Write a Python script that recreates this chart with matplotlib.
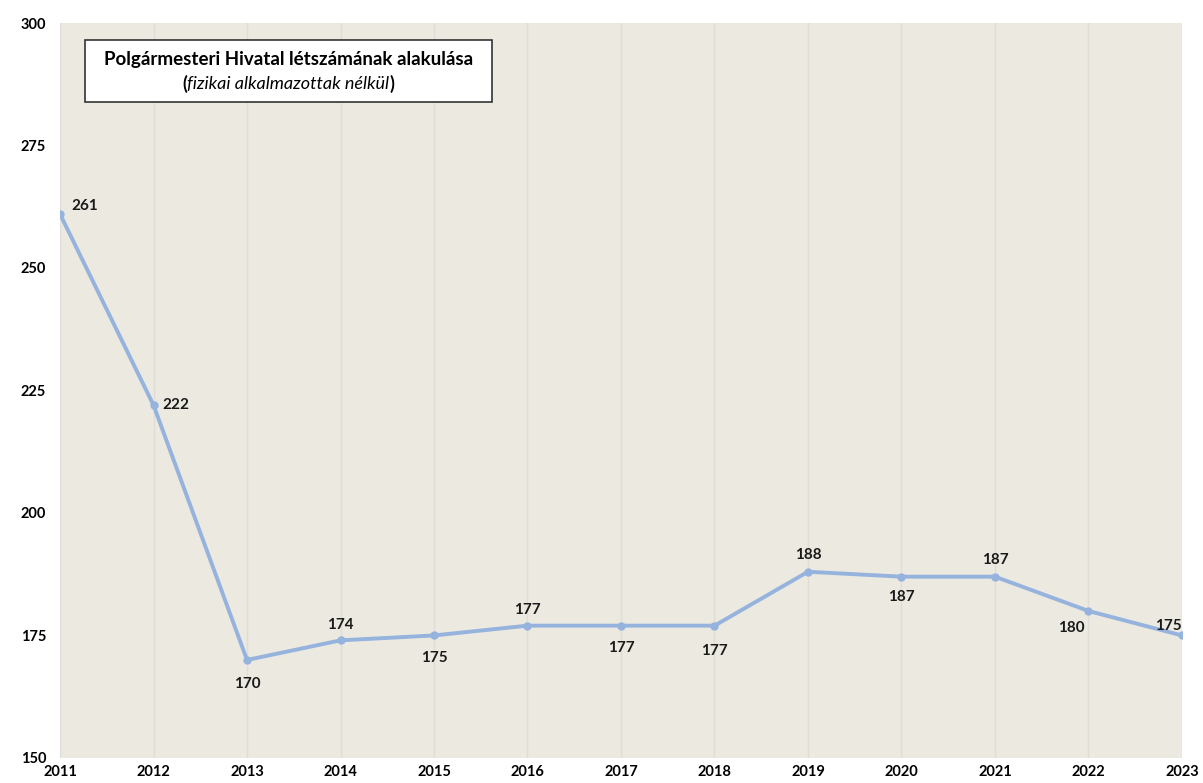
import matplotlib.pyplot as plt

years = [2011, 2012, 2013, 2014, 2015, 2016, 2017, 2018, 2019, 2020, 2021, 2022, 2023]
staff = [261, 222, 170, 174, 175, 177, 177, 177, 188, 187, 187, 180, 175]
# label offsets in points (dx, dy) per point
label_pos = [(18, 6), (16, 0), (0, -17), (0, 11), (0, -16), (0, 11), (0, -16),
             (0, -18), (0, 12), (0, -15), (0, 12), (-12, -12), (-10, 7)]
y_ticks = [150, 175, 200, 225, 250, 275, 300]

plt.rcParams['font.family'] = ['Lato', 'DejaVu Sans']

fig = plt.figure(figsize=(12.03, 7.83), dpi=100)
ax = fig.add_axes([0.0499, 0.032, 0.9326, 0.9386])
ax.set_facecolor('#ece9e1')

ax.plot(years, staff, color='#95b3dd', lw=2.8, marker='o', ms=5, zorder=3)
for x, y, (dx, dy) in zip(years, staff, label_pos):
    ax.annotate(str(y), (x, y), xytext=(dx, dy), textcoords='offset points',
                ha='center', va='center', fontsize=11, fontweight='bold', color='#1a1a1a')

ax.set_xlim(2011, 2023)
ax.set_ylim(150, 300)
ax.set_xticks(years)
ax.set_yticks(y_ticks)
ax.tick_params(length=0, labelsize=10.5)
ax.tick_params(axis='y', pad=10)
ax.tick_params(axis='x', pad=5)
for lbl in ax.get_xticklabels() + ax.get_yticklabels():
    lbl.set_fontweight('bold')
ax.grid(axis='x', color='#e0ddd6', lw=1)
ax.grid(axis='y', visible=False)
for s in ax.spines.values():
    s.set_visible(False)

# title box
box = plt.Rectangle((0.0223, 0.8925), 0.3627, 0.0845, transform=ax.transAxes,
                    facecolor='white', edgecolor='#333333', lw=1.2, zorder=4)
ax.add_patch(box)
ax.text(0.2036, 0.950, 'Polgármesteri Hivatal létszámának alakulása', transform=ax.transAxes,
        fontsize=13.5, fontweight='bold', ha='center', va='center', zorder=5)
sub = ax.text(0.2036, 0.917, 'fizikai alkalmazottak nélkül', transform=ax.transAxes,
              fontsize=13, style='italic', ha='center', va='center', zorder=5)
ax.annotate('(', xy=(0, 0.5), xycoords=sub, fontsize=13, fontweight='bold',
            ha='right', va='center', zorder=5)
ax.annotate(')', xy=(1, 0.5), xycoords=sub, fontsize=13, fontweight='bold',
            ha='left', va='center', zorder=5)

fig.savefig('out.png', dpi=100, facecolor='white')
